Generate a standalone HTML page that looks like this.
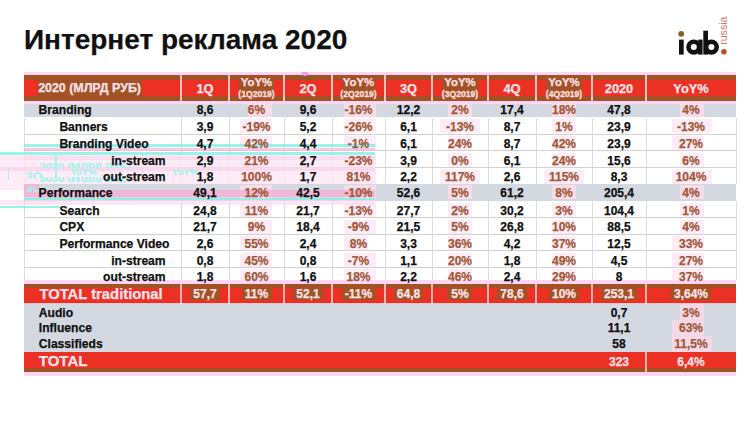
<!DOCTYPE html>
<html><head><meta charset="utf-8"><style>
*{margin:0;padding:0;box-sizing:border-box}
html,body{width:750px;height:421px;overflow:hidden;background:#fff}
body{position:relative;font-family:"Liberation Sans",sans-serif;font-weight:bold;color:#111}
.t,.c{-webkit-text-stroke:0.25px currentColor}
.a{position:absolute}
.t{position:absolute;white-space:nowrap;line-height:1}
.c{position:absolute;text-align:center;white-space:nowrap;line-height:1}
.hw{color:#fde2ea}
</style></head>
<body>
<div class="t" style="left:23.9px;top:26.1px;font-size:28px;letter-spacing:0px;color:#111">Интернет реклама 2020</div>
<svg class="a" style="left:670px;top:8px" width="72" height="54" viewBox="670 8 72 54">
<circle cx="681.2" cy="33.8" r="2.9" fill="#8a5a28"/>
<rect x="679" y="39.6" width="4.7" height="15" fill="#111"/>
<circle cx="693.8" cy="47.1" r="5.3" fill="none" stroke="#111" stroke-width="4.6"/>
<rect x="698.2" y="39.6" width="4.4" height="15" fill="#111"/>
<rect x="703.3" y="30.7" width="4.7" height="23.9" fill="#111"/>
<circle cx="711.4" cy="47.1" r="5.3" fill="none" stroke="#111" stroke-width="4.6"/>
<circle cx="723.9" cy="51.8" r="2.8" fill="#b5502a"/>
<text x="0" y="0" transform="translate(727.4,44.8) rotate(-90)" font-family="Liberation Sans" font-size="10.6" font-weight="normal" fill="#d4786a">russia</text>
</svg>
<div class="a" style="left:24px;top:72.3px;width:712px;height:3.1px;background:#fcd6f4"></div>
<div class="a" style="left:24px;top:75.4px;width:712px;height:25.5px;background:#a35226"></div>
<div class="a" style="left:24px;top:80px;width:157px;height:15.9px;background:#ea3124"></div>
<div class="a" style="left:181px;top:80px;width:48px;height:15.9px;background:#ea3124"></div>
<div class="a" style="left:229px;top:80px;width:10px;height:15.9px;background:#ea3124"></div>
<div class="a" style="left:274px;top:80px;width:10px;height:15.9px;background:#ea3124"></div>
<div class="a" style="left:284px;top:80px;width:48px;height:15.9px;background:#ea3124"></div>
<div class="a" style="left:332px;top:80px;width:10px;height:15.9px;background:#ea3124"></div>
<div class="a" style="left:375px;top:80px;width:10px;height:15.9px;background:#ea3124"></div>
<div class="a" style="left:385px;top:80px;width:47px;height:15.9px;background:#ea3124"></div>
<div class="a" style="left:432px;top:80px;width:10px;height:15.9px;background:#ea3124"></div>
<div class="a" style="left:478px;top:80px;width:10px;height:15.9px;background:#ea3124"></div>
<div class="a" style="left:488px;top:80px;width:48px;height:15.9px;background:#ea3124"></div>
<div class="a" style="left:536px;top:80px;width:10px;height:15.9px;background:#ea3124"></div>
<div class="a" style="left:582px;top:80px;width:10px;height:15.9px;background:#ea3124"></div>
<div class="a" style="left:592px;top:80px;width:54px;height:15.9px;background:#ea3124"></div>
<div class="a" style="left:646px;top:80px;width:90px;height:15.9px;background:#ea3124"></div>
<div class="a" style="left:38px;top:80px;width:104px;height:15.9px;background:#a35226"></div>
<div class="a" style="left:302px;top:72.3px;width:6px;height:4px;background:#fc96f4;border-radius:0 0 3px 3px"></div>
<div class="a" style="left:297px;top:76.5px;width:15px;height:3.5px;background:#8a5a2a"></div>
<div class="a" style="left:180.2px;top:75.4px;width:1.6px;height:25.5px;background:#f2c4bc"></div>
<div class="a" style="left:228.2px;top:75.4px;width:1.6px;height:25.5px;background:#f2c4bc"></div>
<div class="a" style="left:283.2px;top:75.4px;width:1.6px;height:25.5px;background:#f2c4bc"></div>
<div class="a" style="left:331.2px;top:75.4px;width:1.6px;height:25.5px;background:#f2c4bc"></div>
<div class="a" style="left:384.2px;top:75.4px;width:1.6px;height:25.5px;background:#f2c4bc"></div>
<div class="a" style="left:431.2px;top:75.4px;width:1.6px;height:25.5px;background:#f2c4bc"></div>
<div class="a" style="left:487.2px;top:75.4px;width:1.6px;height:25.5px;background:#f2c4bc"></div>
<div class="a" style="left:535.2px;top:75.4px;width:1.6px;height:25.5px;background:#f2c4bc"></div>
<div class="a" style="left:591.2px;top:75.4px;width:1.6px;height:25.5px;background:#f2c4bc"></div>
<div class="a" style="left:645.2px;top:75.4px;width:1.6px;height:25.5px;background:#f2c4bc"></div>
<div class="a" style="left:24px;top:100.9px;width:712px;height:3.2px;background:#fcd6f4"></div>
<div class="t hw" style="left:38.2px;top:82.2px;font-size:12.4px">2020 (МЛРД РУБ)</div>
<div class="c hw" style="left:181px;width:48px;top:82.8px;font-size:12.8px">1Q</div>
<div class="c hw" style="left:229px;width:55px;top:77.3px;font-size:11.4px">YoY%</div>
<div class="c" style="left:229px;width:55px;top:89.7px;font-size:8.6px;color:#fbdcdc;-webkit-text-stroke:0.35px #fbdcdc">(1Q2019)</div>
<div class="c hw" style="left:284px;width:48px;top:82.8px;font-size:12.8px">2Q</div>
<div class="c hw" style="left:332px;width:53px;top:77.3px;font-size:11.4px">YoY%</div>
<div class="c" style="left:332px;width:53px;top:89.7px;font-size:8.6px;color:#fbdcdc;-webkit-text-stroke:0.35px #fbdcdc">(2Q2019)</div>
<div class="c hw" style="left:385px;width:47px;top:82.8px;font-size:12.8px">3Q</div>
<div class="c hw" style="left:432px;width:56px;top:77.3px;font-size:11.4px">YoY%</div>
<div class="c" style="left:432px;width:56px;top:89.7px;font-size:8.6px;color:#fbdcdc;-webkit-text-stroke:0.35px #fbdcdc">(3Q2019)</div>
<div class="c hw" style="left:488px;width:48px;top:82.8px;font-size:12.8px">4Q</div>
<div class="c hw" style="left:536px;width:56px;top:77.3px;font-size:11.4px">YoY%</div>
<div class="c" style="left:536px;width:56px;top:89.7px;font-size:8.6px;color:#fbdcdc;-webkit-text-stroke:0.35px #fbdcdc">(4Q2019)</div>
<div class="c hw" style="left:592px;width:54px;top:82.8px;font-size:12.8px">2020</div>
<div class="c hw" style="left:646px;width:90px;top:82.8px;font-size:12.8px">YoY%</div>
<div class="a" style="left:24px;top:104.1px;width:712px;height:13.4px;background:#d4d8e0"></div>
<div class="a" style="left:24px;top:117.5px;width:712px;height:16.8px;background:#fff"></div>
<div class="a" style="left:24px;top:134.3px;width:712px;height:16.5px;background:#fff"></div>
<div class="a" style="left:24px;top:150.8px;width:712px;height:16.8px;background:#fff"></div>
<div class="a" style="left:24px;top:167.6px;width:712px;height:16.7px;background:#fff"></div>
<div class="a" style="left:24px;top:184.3px;width:712px;height:16.4px;background:#d4d8e0"></div>
<div class="a" style="left:24px;top:200.7px;width:712px;height:16.4px;background:#fff"></div>
<div class="a" style="left:24px;top:217.1px;width:712px;height:16.9px;background:#fff"></div>
<div class="a" style="left:24px;top:234px;width:712px;height:16.6px;background:#fff"></div>
<div class="a" style="left:24px;top:250.6px;width:712px;height:16.5px;background:#fff"></div>
<div class="a" style="left:24px;top:267.1px;width:712px;height:12.9px;background:#fff"></div>
<div class="a" style="left:248px;top:102.7px;width:24px;height:14px;background:#f6dce8"></div>
<div class="a" style="left:344px;top:102.7px;width:32px;height:14px;background:#f6dce8"></div>
<div class="a" style="left:448px;top:102.7px;width:24px;height:14px;background:#f6dce8"></div>
<div class="a" style="left:552px;top:102.7px;width:24px;height:14px;background:#f6dce8"></div>
<div class="a" style="left:680px;top:102.7px;width:24px;height:14px;background:#f6dce8"></div>
<div class="a" style="left:240px;top:119.3px;width:32px;height:14px;background:#fdecf6"></div>
<div class="a" style="left:344px;top:119.3px;width:32px;height:14px;background:#fdecf6"></div>
<div class="a" style="left:440px;top:119.3px;width:40px;height:14px;background:#fdecf6"></div>
<div class="a" style="left:552px;top:119.3px;width:24px;height:14px;background:#fdecf6"></div>
<div class="a" style="left:672px;top:119.3px;width:40px;height:14px;background:#fdecf6"></div>
<div class="a" style="left:240px;top:136.0px;width:32px;height:14px;background:#fdecf6"></div>
<div class="a" style="left:344px;top:136.0px;width:32px;height:14px;background:#fdecf6"></div>
<div class="a" style="left:448px;top:136.0px;width:24px;height:14px;background:#fdecf6"></div>
<div class="a" style="left:552px;top:136.0px;width:24px;height:14px;background:#fdecf6"></div>
<div class="a" style="left:672px;top:136.0px;width:32px;height:14px;background:#fdecf6"></div>
<div class="a" style="left:240px;top:152.9px;width:32px;height:14px;background:#fdecf6"></div>
<div class="a" style="left:344px;top:152.9px;width:32px;height:14px;background:#fdecf6"></div>
<div class="a" style="left:448px;top:152.9px;width:24px;height:14px;background:#fdecf6"></div>
<div class="a" style="left:552px;top:152.9px;width:24px;height:14px;background:#fdecf6"></div>
<div class="a" style="left:680px;top:152.9px;width:24px;height:14px;background:#fdecf6"></div>
<div class="a" style="left:240px;top:169.6px;width:32px;height:14px;background:#fdecf6"></div>
<div class="a" style="left:344px;top:169.6px;width:32px;height:14px;background:#fdecf6"></div>
<div class="a" style="left:440px;top:169.6px;width:40px;height:14px;background:#fdecf6"></div>
<div class="a" style="left:544px;top:169.6px;width:40px;height:14px;background:#fdecf6"></div>
<div class="a" style="left:672px;top:169.6px;width:40px;height:14px;background:#fdecf6"></div>
<div class="a" style="left:240px;top:185.3px;width:32px;height:14px;background:#f6dce8"></div>
<div class="a" style="left:344px;top:185.3px;width:32px;height:14px;background:#f6dce8"></div>
<div class="a" style="left:448px;top:185.3px;width:24px;height:14px;background:#f6dce8"></div>
<div class="a" style="left:552px;top:185.3px;width:24px;height:14px;background:#f6dce8"></div>
<div class="a" style="left:680px;top:185.3px;width:24px;height:14px;background:#f6dce8"></div>
<div class="a" style="left:240px;top:202.9px;width:32px;height:14px;background:#fdecf6"></div>
<div class="a" style="left:344px;top:202.9px;width:32px;height:14px;background:#fdecf6"></div>
<div class="a" style="left:448px;top:202.9px;width:24px;height:14px;background:#fdecf6"></div>
<div class="a" style="left:552px;top:202.9px;width:24px;height:14px;background:#fdecf6"></div>
<div class="a" style="left:680px;top:202.9px;width:24px;height:14px;background:#fdecf6"></div>
<div class="a" style="left:248px;top:219.5px;width:24px;height:14px;background:#fdecf6"></div>
<div class="a" style="left:344px;top:219.5px;width:32px;height:14px;background:#fdecf6"></div>
<div class="a" style="left:448px;top:219.5px;width:24px;height:14px;background:#fdecf6"></div>
<div class="a" style="left:552px;top:219.5px;width:24px;height:14px;background:#fdecf6"></div>
<div class="a" style="left:680px;top:219.5px;width:24px;height:14px;background:#fdecf6"></div>
<div class="a" style="left:240px;top:235.9px;width:32px;height:14px;background:#fdecf6"></div>
<div class="a" style="left:344px;top:235.9px;width:24px;height:14px;background:#fdecf6"></div>
<div class="a" style="left:448px;top:235.9px;width:24px;height:14px;background:#fdecf6"></div>
<div class="a" style="left:552px;top:235.9px;width:24px;height:14px;background:#fdecf6"></div>
<div class="a" style="left:672px;top:235.9px;width:32px;height:14px;background:#fdecf6"></div>
<div class="a" style="left:240px;top:252.9px;width:32px;height:14px;background:#fdecf6"></div>
<div class="a" style="left:344px;top:252.9px;width:32px;height:14px;background:#fdecf6"></div>
<div class="a" style="left:448px;top:252.9px;width:24px;height:14px;background:#fdecf6"></div>
<div class="a" style="left:552px;top:252.9px;width:24px;height:14px;background:#fdecf6"></div>
<div class="a" style="left:672px;top:252.9px;width:32px;height:14px;background:#fdecf6"></div>
<div class="a" style="left:240px;top:269.2px;width:32px;height:14px;background:#fdecf6"></div>
<div class="a" style="left:344px;top:269.2px;width:32px;height:14px;background:#fdecf6"></div>
<div class="a" style="left:448px;top:269.2px;width:24px;height:14px;background:#fdecf6"></div>
<div class="a" style="left:552px;top:269.2px;width:24px;height:14px;background:#fdecf6"></div>
<div class="a" style="left:672px;top:269.2px;width:32px;height:14px;background:#fdecf6"></div>
<div class="a" style="left:23.5px;top:117.5px;width:1px;height:16.8px;background:#dcdcdc"></div>
<div class="a" style="left:180.5px;top:117.5px;width:1px;height:16.8px;background:#dcdcdc"></div>
<div class="a" style="left:228.5px;top:117.5px;width:1px;height:16.8px;background:#dcdcdc"></div>
<div class="a" style="left:283.5px;top:117.5px;width:1px;height:16.8px;background:#dcdcdc"></div>
<div class="a" style="left:331.5px;top:117.5px;width:1px;height:16.8px;background:#dcdcdc"></div>
<div class="a" style="left:384.5px;top:117.5px;width:1px;height:16.8px;background:#dcdcdc"></div>
<div class="a" style="left:431.5px;top:117.5px;width:1px;height:16.8px;background:#dcdcdc"></div>
<div class="a" style="left:487.5px;top:117.5px;width:1px;height:16.8px;background:#dcdcdc"></div>
<div class="a" style="left:535.5px;top:117.5px;width:1px;height:16.8px;background:#dcdcdc"></div>
<div class="a" style="left:591.5px;top:117.5px;width:1px;height:16.8px;background:#dcdcdc"></div>
<div class="a" style="left:645.5px;top:117.5px;width:1px;height:16.8px;background:#dcdcdc"></div>
<div class="a" style="left:735.5px;top:117.5px;width:1px;height:16.8px;background:#dcdcdc"></div>
<div class="a" style="left:24px;top:133.8px;width:712px;height:1px;background:#d2d2d2"></div>
<div class="a" style="left:23.5px;top:134.3px;width:1px;height:16.5px;background:#dcdcdc"></div>
<div class="a" style="left:180.5px;top:134.3px;width:1px;height:16.5px;background:#dcdcdc"></div>
<div class="a" style="left:228.5px;top:134.3px;width:1px;height:16.5px;background:#dcdcdc"></div>
<div class="a" style="left:283.5px;top:134.3px;width:1px;height:16.5px;background:#dcdcdc"></div>
<div class="a" style="left:331.5px;top:134.3px;width:1px;height:16.5px;background:#dcdcdc"></div>
<div class="a" style="left:384.5px;top:134.3px;width:1px;height:16.5px;background:#dcdcdc"></div>
<div class="a" style="left:431.5px;top:134.3px;width:1px;height:16.5px;background:#dcdcdc"></div>
<div class="a" style="left:487.5px;top:134.3px;width:1px;height:16.5px;background:#dcdcdc"></div>
<div class="a" style="left:535.5px;top:134.3px;width:1px;height:16.5px;background:#dcdcdc"></div>
<div class="a" style="left:591.5px;top:134.3px;width:1px;height:16.5px;background:#dcdcdc"></div>
<div class="a" style="left:645.5px;top:134.3px;width:1px;height:16.5px;background:#dcdcdc"></div>
<div class="a" style="left:735.5px;top:134.3px;width:1px;height:16.5px;background:#dcdcdc"></div>
<div class="a" style="left:24px;top:150.3px;width:712px;height:1px;background:#d2d2d2"></div>
<div class="a" style="left:23.5px;top:150.8px;width:1px;height:16.8px;background:#dcdcdc"></div>
<div class="a" style="left:180.5px;top:150.8px;width:1px;height:16.8px;background:#dcdcdc"></div>
<div class="a" style="left:228.5px;top:150.8px;width:1px;height:16.8px;background:#dcdcdc"></div>
<div class="a" style="left:283.5px;top:150.8px;width:1px;height:16.8px;background:#dcdcdc"></div>
<div class="a" style="left:331.5px;top:150.8px;width:1px;height:16.8px;background:#dcdcdc"></div>
<div class="a" style="left:384.5px;top:150.8px;width:1px;height:16.8px;background:#dcdcdc"></div>
<div class="a" style="left:431.5px;top:150.8px;width:1px;height:16.8px;background:#dcdcdc"></div>
<div class="a" style="left:487.5px;top:150.8px;width:1px;height:16.8px;background:#dcdcdc"></div>
<div class="a" style="left:535.5px;top:150.8px;width:1px;height:16.8px;background:#dcdcdc"></div>
<div class="a" style="left:591.5px;top:150.8px;width:1px;height:16.8px;background:#dcdcdc"></div>
<div class="a" style="left:645.5px;top:150.8px;width:1px;height:16.8px;background:#dcdcdc"></div>
<div class="a" style="left:735.5px;top:150.8px;width:1px;height:16.8px;background:#dcdcdc"></div>
<div class="a" style="left:24px;top:167.1px;width:712px;height:1px;background:#d2d2d2"></div>
<div class="a" style="left:23.5px;top:167.6px;width:1px;height:16.7px;background:#dcdcdc"></div>
<div class="a" style="left:180.5px;top:167.6px;width:1px;height:16.7px;background:#dcdcdc"></div>
<div class="a" style="left:228.5px;top:167.6px;width:1px;height:16.7px;background:#dcdcdc"></div>
<div class="a" style="left:283.5px;top:167.6px;width:1px;height:16.7px;background:#dcdcdc"></div>
<div class="a" style="left:331.5px;top:167.6px;width:1px;height:16.7px;background:#dcdcdc"></div>
<div class="a" style="left:384.5px;top:167.6px;width:1px;height:16.7px;background:#dcdcdc"></div>
<div class="a" style="left:431.5px;top:167.6px;width:1px;height:16.7px;background:#dcdcdc"></div>
<div class="a" style="left:487.5px;top:167.6px;width:1px;height:16.7px;background:#dcdcdc"></div>
<div class="a" style="left:535.5px;top:167.6px;width:1px;height:16.7px;background:#dcdcdc"></div>
<div class="a" style="left:591.5px;top:167.6px;width:1px;height:16.7px;background:#dcdcdc"></div>
<div class="a" style="left:645.5px;top:167.6px;width:1px;height:16.7px;background:#dcdcdc"></div>
<div class="a" style="left:735.5px;top:167.6px;width:1px;height:16.7px;background:#dcdcdc"></div>
<div class="a" style="left:23.5px;top:200.7px;width:1px;height:16.4px;background:#dcdcdc"></div>
<div class="a" style="left:180.5px;top:200.7px;width:1px;height:16.4px;background:#dcdcdc"></div>
<div class="a" style="left:228.5px;top:200.7px;width:1px;height:16.4px;background:#dcdcdc"></div>
<div class="a" style="left:283.5px;top:200.7px;width:1px;height:16.4px;background:#dcdcdc"></div>
<div class="a" style="left:331.5px;top:200.7px;width:1px;height:16.4px;background:#dcdcdc"></div>
<div class="a" style="left:384.5px;top:200.7px;width:1px;height:16.4px;background:#dcdcdc"></div>
<div class="a" style="left:431.5px;top:200.7px;width:1px;height:16.4px;background:#dcdcdc"></div>
<div class="a" style="left:487.5px;top:200.7px;width:1px;height:16.4px;background:#dcdcdc"></div>
<div class="a" style="left:535.5px;top:200.7px;width:1px;height:16.4px;background:#dcdcdc"></div>
<div class="a" style="left:591.5px;top:200.7px;width:1px;height:16.4px;background:#dcdcdc"></div>
<div class="a" style="left:645.5px;top:200.7px;width:1px;height:16.4px;background:#dcdcdc"></div>
<div class="a" style="left:735.5px;top:200.7px;width:1px;height:16.4px;background:#dcdcdc"></div>
<div class="a" style="left:24px;top:216.6px;width:712px;height:1px;background:#d2d2d2"></div>
<div class="a" style="left:23.5px;top:217.1px;width:1px;height:16.9px;background:#dcdcdc"></div>
<div class="a" style="left:180.5px;top:217.1px;width:1px;height:16.9px;background:#dcdcdc"></div>
<div class="a" style="left:228.5px;top:217.1px;width:1px;height:16.9px;background:#dcdcdc"></div>
<div class="a" style="left:283.5px;top:217.1px;width:1px;height:16.9px;background:#dcdcdc"></div>
<div class="a" style="left:331.5px;top:217.1px;width:1px;height:16.9px;background:#dcdcdc"></div>
<div class="a" style="left:384.5px;top:217.1px;width:1px;height:16.9px;background:#dcdcdc"></div>
<div class="a" style="left:431.5px;top:217.1px;width:1px;height:16.9px;background:#dcdcdc"></div>
<div class="a" style="left:487.5px;top:217.1px;width:1px;height:16.9px;background:#dcdcdc"></div>
<div class="a" style="left:535.5px;top:217.1px;width:1px;height:16.9px;background:#dcdcdc"></div>
<div class="a" style="left:591.5px;top:217.1px;width:1px;height:16.9px;background:#dcdcdc"></div>
<div class="a" style="left:645.5px;top:217.1px;width:1px;height:16.9px;background:#dcdcdc"></div>
<div class="a" style="left:735.5px;top:217.1px;width:1px;height:16.9px;background:#dcdcdc"></div>
<div class="a" style="left:24px;top:233.5px;width:712px;height:1px;background:#d2d2d2"></div>
<div class="a" style="left:23.5px;top:234px;width:1px;height:16.6px;background:#dcdcdc"></div>
<div class="a" style="left:180.5px;top:234px;width:1px;height:16.6px;background:#dcdcdc"></div>
<div class="a" style="left:228.5px;top:234px;width:1px;height:16.6px;background:#dcdcdc"></div>
<div class="a" style="left:283.5px;top:234px;width:1px;height:16.6px;background:#dcdcdc"></div>
<div class="a" style="left:331.5px;top:234px;width:1px;height:16.6px;background:#dcdcdc"></div>
<div class="a" style="left:384.5px;top:234px;width:1px;height:16.6px;background:#dcdcdc"></div>
<div class="a" style="left:431.5px;top:234px;width:1px;height:16.6px;background:#dcdcdc"></div>
<div class="a" style="left:487.5px;top:234px;width:1px;height:16.6px;background:#dcdcdc"></div>
<div class="a" style="left:535.5px;top:234px;width:1px;height:16.6px;background:#dcdcdc"></div>
<div class="a" style="left:591.5px;top:234px;width:1px;height:16.6px;background:#dcdcdc"></div>
<div class="a" style="left:645.5px;top:234px;width:1px;height:16.6px;background:#dcdcdc"></div>
<div class="a" style="left:735.5px;top:234px;width:1px;height:16.6px;background:#dcdcdc"></div>
<div class="a" style="left:24px;top:250.1px;width:712px;height:1px;background:#d2d2d2"></div>
<div class="a" style="left:23.5px;top:250.6px;width:1px;height:16.5px;background:#dcdcdc"></div>
<div class="a" style="left:180.5px;top:250.6px;width:1px;height:16.5px;background:#dcdcdc"></div>
<div class="a" style="left:228.5px;top:250.6px;width:1px;height:16.5px;background:#dcdcdc"></div>
<div class="a" style="left:283.5px;top:250.6px;width:1px;height:16.5px;background:#dcdcdc"></div>
<div class="a" style="left:331.5px;top:250.6px;width:1px;height:16.5px;background:#dcdcdc"></div>
<div class="a" style="left:384.5px;top:250.6px;width:1px;height:16.5px;background:#dcdcdc"></div>
<div class="a" style="left:431.5px;top:250.6px;width:1px;height:16.5px;background:#dcdcdc"></div>
<div class="a" style="left:487.5px;top:250.6px;width:1px;height:16.5px;background:#dcdcdc"></div>
<div class="a" style="left:535.5px;top:250.6px;width:1px;height:16.5px;background:#dcdcdc"></div>
<div class="a" style="left:591.5px;top:250.6px;width:1px;height:16.5px;background:#dcdcdc"></div>
<div class="a" style="left:645.5px;top:250.6px;width:1px;height:16.5px;background:#dcdcdc"></div>
<div class="a" style="left:735.5px;top:250.6px;width:1px;height:16.5px;background:#dcdcdc"></div>
<div class="a" style="left:24px;top:266.6px;width:712px;height:1px;background:#d2d2d2"></div>
<div class="a" style="left:23.5px;top:267.1px;width:1px;height:12.9px;background:#dcdcdc"></div>
<div class="a" style="left:180.5px;top:267.1px;width:1px;height:12.9px;background:#dcdcdc"></div>
<div class="a" style="left:228.5px;top:267.1px;width:1px;height:12.9px;background:#dcdcdc"></div>
<div class="a" style="left:283.5px;top:267.1px;width:1px;height:12.9px;background:#dcdcdc"></div>
<div class="a" style="left:331.5px;top:267.1px;width:1px;height:12.9px;background:#dcdcdc"></div>
<div class="a" style="left:384.5px;top:267.1px;width:1px;height:12.9px;background:#dcdcdc"></div>
<div class="a" style="left:431.5px;top:267.1px;width:1px;height:12.9px;background:#dcdcdc"></div>
<div class="a" style="left:487.5px;top:267.1px;width:1px;height:12.9px;background:#dcdcdc"></div>
<div class="a" style="left:535.5px;top:267.1px;width:1px;height:12.9px;background:#dcdcdc"></div>
<div class="a" style="left:591.5px;top:267.1px;width:1px;height:12.9px;background:#dcdcdc"></div>
<div class="a" style="left:645.5px;top:267.1px;width:1px;height:12.9px;background:#dcdcdc"></div>
<div class="a" style="left:735.5px;top:267.1px;width:1px;height:12.9px;background:#dcdcdc"></div>
<div class="a" style="left:24px;top:280px;width:712px;height:3.5px;background:#fcd6f4"></div>
<div class="a" style="left:24px;top:283.5px;width:712px;height:19.8px;background:#ea3124"></div>
<div class="a" style="left:24px;top:283.5px;width:712px;height:4.3px;background:#a35226"></div>
<div class="a" style="left:190.3px;top:287.8px;width:29.4px;height:12.5px;background:#a35226"></div>
<div class="a" style="left:241.5px;top:287.8px;width:30.0px;height:12.5px;background:#a35226"></div>
<div class="a" style="left:293.3px;top:287.8px;width:29.4px;height:12.5px;background:#a35226"></div>
<div class="a" style="left:341.5px;top:287.8px;width:34.0px;height:12.5px;background:#a35226"></div>
<div class="a" style="left:393.8px;top:287.8px;width:29.4px;height:12.5px;background:#a35226"></div>
<div class="a" style="left:448.3px;top:287.8px;width:23.3px;height:12.5px;background:#a35226"></div>
<div class="a" style="left:497.3px;top:287.8px;width:29.4px;height:12.5px;background:#a35226"></div>
<div class="a" style="left:549.0px;top:287.8px;width:30.0px;height:12.5px;background:#a35226"></div>
<div class="a" style="left:601.0px;top:287.8px;width:36.0px;height:12.5px;background:#a35226"></div>
<div class="a" style="left:671.0px;top:287.8px;width:40.0px;height:12.5px;background:#a35226"></div>
<div class="a" style="left:180.2px;top:283.5px;width:1.6px;height:19.8px;background:#f2b4ac"></div>
<div class="a" style="left:228.2px;top:283.5px;width:1.6px;height:19.8px;background:#f2b4ac"></div>
<div class="a" style="left:283.2px;top:283.5px;width:1.6px;height:19.8px;background:#f2b4ac"></div>
<div class="a" style="left:331.2px;top:283.5px;width:1.6px;height:19.8px;background:#f2b4ac"></div>
<div class="a" style="left:384.2px;top:283.5px;width:1.6px;height:19.8px;background:#f2b4ac"></div>
<div class="a" style="left:431.2px;top:283.5px;width:1.6px;height:19.8px;background:#f2b4ac"></div>
<div class="a" style="left:487.2px;top:283.5px;width:1.6px;height:19.8px;background:#f2b4ac"></div>
<div class="a" style="left:535.2px;top:283.5px;width:1.6px;height:19.8px;background:#f2b4ac"></div>
<div class="a" style="left:591.2px;top:283.5px;width:1.6px;height:19.8px;background:#f2b4ac"></div>
<div class="a" style="left:645.2px;top:283.5px;width:1.6px;height:19.8px;background:#f2b4ac"></div>
<div class="a" style="left:24px;top:303.3px;width:712px;height:1px;background:#ecc8d0"></div>
<div class="t hw" style="left:39.4px;top:287.1px;font-size:14.8px">TOTAL traditional</div>
<div class="c hw" style="left:181px;width:48px;top:287.65px;font-size:12.0px">57,7</div>
<div class="c hw" style="left:229px;width:55px;top:287.65px;font-size:12.0px">11%</div>
<div class="c hw" style="left:284px;width:48px;top:287.65px;font-size:12.0px">52,1</div>
<div class="c hw" style="left:332px;width:53px;top:287.65px;font-size:12.0px">-11%</div>
<div class="c hw" style="left:385px;width:47px;top:287.65px;font-size:12.0px">64,8</div>
<div class="c hw" style="left:432px;width:56px;top:287.65px;font-size:12.0px">5%</div>
<div class="c hw" style="left:488px;width:48px;top:287.65px;font-size:12.0px">78,6</div>
<div class="c hw" style="left:536px;width:56px;top:287.65px;font-size:12.0px">10%</div>
<div class="c hw" style="left:592px;width:54px;top:287.65px;font-size:12.0px">253,1</div>
<div class="c hw" style="left:646px;width:90px;top:287.65px;font-size:12.0px">3,64%</div>
<div class="a" style="left:24px;top:304.3px;width:712px;height:47.7px;background:#d4d8e0"></div>
<div class="a" style="left:680px;top:304.3px;width:24px;height:16px;background:#f4d8e8"></div>
<div class="a" style="left:672px;top:320.3px;width:32px;height:16px;background:#f4d8e8"></div>
<div class="a" style="left:672px;top:336.3px;width:40px;height:16px;background:#f4d8e8"></div>
<div class="t" style="left:38.8px;top:306.65px;font-size:12.1px">Audio</div>
<div class="c" style="left:592px;width:54px;top:306.65px;font-size:12.0px">0,7</div>
<div class="c" style="left:646px;width:90px;top:306.65px;font-size:12.0px;color:#a05838">3%</div>
<div class="t" style="left:38.8px;top:322.25px;font-size:12.1px">Influence</div>
<div class="c" style="left:592px;width:54px;top:322.25px;font-size:12.0px">11,1</div>
<div class="c" style="left:646px;width:90px;top:322.25px;font-size:12.0px;color:#a05838">63%</div>
<div class="t" style="left:38.8px;top:338.25px;font-size:12.1px">Classifieds</div>
<div class="c" style="left:592px;width:54px;top:338.25px;font-size:12.0px">58</div>
<div class="c" style="left:646px;width:90px;top:338.25px;font-size:12.0px;color:#a05838">11,5%</div>
<div class="a" style="left:24px;top:352px;width:712px;height:16px;background:#ea3124"></div>
<div class="a" style="left:24px;top:368px;width:712px;height:3.5px;background:#a35226"></div>
<div class="a" style="left:645.2px;top:352px;width:1.6px;height:19.5px;background:#f2b4ac"></div>
<div class="a" style="left:24px;top:371.5px;width:712px;height:4.3px;background:#fcd6f4"></div>
<div class="t hw" style="left:38.8px;top:353.4px;font-size:15px">TOTAL</div>
<div class="c hw" style="left:592px;width:54px;top:355.75px;font-size:12.0px">323</div>
<div class="c hw" style="left:646px;width:90px;top:355.75px;font-size:12.0px">6,4%</div>
<div class="a" style="left:24px;top:144.2px;width:351px;height:2.9px;background:#86f2e6;opacity:0.85"></div>
<div class="a" style="left:24px;top:147.5px;width:351px;height:3.5px;background:#f7b8dc;opacity:0.75"></div>
<div class="a" style="left:24px;top:155.0px;width:351px;height:29.3px;background:#fde6f4;opacity:0.8"></div>
<div class="a" style="left:0px;top:160.0px;width:24px;height:30.0px;background:#fde6f4;opacity:0.7"></div>
<div class="a" style="left:0px;top:167.0px;width:375px;height:3.5px;background:#fbd0ea;opacity:0.7"></div>
<div class="a" style="left:0px;top:152.0px;width:375px;height:3.0px;background:#86f2e6;opacity:0.85"></div>
<div class="a" style="left:0px;top:155.5px;width:375px;height:4.5px;background:#fbd4ec;opacity:0.6"></div>
<div class="a" style="left:24px;top:184.3px;width:16px;height:13.0px;background:#f4b4d6;opacity:0.9"></div>
<div class="a" style="left:24px;top:190.0px;width:351px;height:7.3px;background:#f4b4d6;opacity:0.9"></div>
<div class="a" style="left:24px;top:197.5px;width:351px;height:2.6px;background:#86f2e6;opacity:0.85"></div>
<div class="a" style="left:0px;top:200.3px;width:375px;height:4.7px;background:#fbd4ec;opacity:0.6"></div>
<div class="a" style="left:0px;top:205.8px;width:60px;height:2.2px;background:#86f2e6;opacity:0.85"></div>
<div class="t" style="left:39.6px;top:162.3px;font-size:11px;color:#a6f2ee;clip-path:inset(0 0 45% 0)">2020 (МЛРД РУБ)</div>
<div class="t" style="left:39.6px;top:171.5px;font-size:11px;color:#a6f2ee;transform:scaleY(-1);clip-path:inset(0 0 45% 0)">2020 (МЛРД РУБ)</div>
<div class="t" style="left:70.4px;top:166.8px;font-size:9.5px;color:#a6f2ee">YoY%</div>
<div class="t" style="left:172px;top:166.8px;font-size:9.5px;color:#a6f2ee">YoY%</div>
<div class="t" style="left:26px;top:171.0px;font-size:12px;color:#a6f2ee;clip-path:inset(0 0 40% 0)">3Q</div>
<div class="t" style="left:26px;top:180.5px;font-size:12px;color:#a6f2ee;transform:scaleY(-1);clip-path:inset(0 0 40% 0)">3Q</div>
<div class="a" style="left:55px;top:155px;width:1.5px;height:25px;background:#a6f2ee"></div>
<div class="a" style="left:7.5px;top:168px;width:1.5px;height:12px;background:#a6f2ee"></div>
<div class="t" style="left:38.6px;top:104.45px;font-size:12.1px">Branding</div>
<div class="c" style="left:181px;width:48px;top:104.45px;font-size:12.0px;color:#111">8,6</div>
<div class="c" style="left:229px;width:55px;top:104.45px;font-size:12.0px;color:#a05838">6%</div>
<div class="c" style="left:284px;width:48px;top:104.45px;font-size:12.0px;color:#111">9,6</div>
<div class="c" style="left:332px;width:53px;top:104.45px;font-size:12.0px;color:#a05838">-16%</div>
<div class="c" style="left:385px;width:47px;top:104.45px;font-size:12.0px;color:#111">12,2</div>
<div class="c" style="left:432px;width:56px;top:104.45px;font-size:12.0px;color:#a05838">2%</div>
<div class="c" style="left:488px;width:48px;top:104.45px;font-size:12.0px;color:#111">17,4</div>
<div class="c" style="left:536px;width:56px;top:104.45px;font-size:12.0px;color:#a05838">18%</div>
<div class="c" style="left:592px;width:54px;top:104.45px;font-size:12.0px;color:#111">47,8</div>
<div class="c" style="left:646px;width:90px;top:104.45px;font-size:12.0px;color:#a05838">4%</div>
<div class="t" style="left:59.4px;top:121.05px;font-size:12.1px">Banners</div>
<div class="c" style="left:181px;width:48px;top:121.05px;font-size:12.0px;color:#111">3,9</div>
<div class="c" style="left:229px;width:55px;top:121.05px;font-size:12.0px;color:#a05838">-19%</div>
<div class="c" style="left:284px;width:48px;top:121.05px;font-size:12.0px;color:#111">5,2</div>
<div class="c" style="left:332px;width:53px;top:121.05px;font-size:12.0px;color:#a05838">-26%</div>
<div class="c" style="left:385px;width:47px;top:121.05px;font-size:12.0px;color:#111">6,1</div>
<div class="c" style="left:432px;width:56px;top:121.05px;font-size:12.0px;color:#a05838">-13%</div>
<div class="c" style="left:488px;width:48px;top:121.05px;font-size:12.0px;color:#111">8,7</div>
<div class="c" style="left:536px;width:56px;top:121.05px;font-size:12.0px;color:#a05838">1%</div>
<div class="c" style="left:592px;width:54px;top:121.05px;font-size:12.0px;color:#111">23,9</div>
<div class="c" style="left:646px;width:90px;top:121.05px;font-size:12.0px;color:#a05838">-13%</div>
<div class="t" style="left:59.4px;top:137.75px;font-size:12.1px">Branding Video</div>
<div class="c" style="left:181px;width:48px;top:137.75px;font-size:12.0px;color:#111">4,7</div>
<div class="c" style="left:229px;width:55px;top:137.75px;font-size:12.0px;color:#a05838">42%</div>
<div class="c" style="left:284px;width:48px;top:137.75px;font-size:12.0px;color:#111">4,4</div>
<div class="c" style="left:332px;width:53px;top:137.75px;font-size:12.0px;color:#a05838">-1%</div>
<div class="c" style="left:385px;width:47px;top:137.75px;font-size:12.0px;color:#111">6,1</div>
<div class="c" style="left:432px;width:56px;top:137.75px;font-size:12.0px;color:#a05838">24%</div>
<div class="c" style="left:488px;width:48px;top:137.75px;font-size:12.0px;color:#111">8,7</div>
<div class="c" style="left:536px;width:56px;top:137.75px;font-size:12.0px;color:#a05838">42%</div>
<div class="c" style="left:592px;width:54px;top:137.75px;font-size:12.0px;color:#111">23,9</div>
<div class="c" style="left:646px;width:90px;top:137.75px;font-size:12.0px;color:#a05838">27%</div>
<div class="t" style="right:584.4px;top:154.65px;font-size:12.1px">in-stream</div>
<div class="c" style="left:181px;width:48px;top:154.65px;font-size:12.0px;color:#111">2,9</div>
<div class="c" style="left:229px;width:55px;top:154.65px;font-size:12.0px;color:#a05838">21%</div>
<div class="c" style="left:284px;width:48px;top:154.65px;font-size:12.0px;color:#111">2,7</div>
<div class="c" style="left:332px;width:53px;top:154.65px;font-size:12.0px;color:#a05838">-23%</div>
<div class="c" style="left:385px;width:47px;top:154.65px;font-size:12.0px;color:#111">3,9</div>
<div class="c" style="left:432px;width:56px;top:154.65px;font-size:12.0px;color:#a05838">0%</div>
<div class="c" style="left:488px;width:48px;top:154.65px;font-size:12.0px;color:#111">6,1</div>
<div class="c" style="left:536px;width:56px;top:154.65px;font-size:12.0px;color:#a05838">24%</div>
<div class="c" style="left:592px;width:54px;top:154.65px;font-size:12.0px;color:#111">15,6</div>
<div class="c" style="left:646px;width:90px;top:154.65px;font-size:12.0px;color:#a05838">6%</div>
<div class="t" style="right:584.4px;top:171.35px;font-size:12.1px">out-stream</div>
<div class="c" style="left:181px;width:48px;top:171.35px;font-size:12.0px;color:#111">1,8</div>
<div class="c" style="left:229px;width:55px;top:171.35px;font-size:12.0px;color:#a05838">100%</div>
<div class="c" style="left:284px;width:48px;top:171.35px;font-size:12.0px;color:#111">1,7</div>
<div class="c" style="left:332px;width:53px;top:171.35px;font-size:12.0px;color:#a05838">81%</div>
<div class="c" style="left:385px;width:47px;top:171.35px;font-size:12.0px;color:#111">2,2</div>
<div class="c" style="left:432px;width:56px;top:171.35px;font-size:12.0px;color:#a05838">117%</div>
<div class="c" style="left:488px;width:48px;top:171.35px;font-size:12.0px;color:#111">2,6</div>
<div class="c" style="left:536px;width:56px;top:171.35px;font-size:12.0px;color:#a05838">115%</div>
<div class="c" style="left:592px;width:54px;top:171.35px;font-size:12.0px;color:#111">8,3</div>
<div class="c" style="left:646px;width:90px;top:171.35px;font-size:12.0px;color:#a05838">104%</div>
<div class="t" style="left:38.6px;top:187.05px;font-size:12.1px">Performance</div>
<div class="c" style="left:181px;width:48px;top:187.05px;font-size:12.0px;color:#111">49,1</div>
<div class="c" style="left:229px;width:55px;top:187.05px;font-size:12.0px;color:#a05838">12%</div>
<div class="c" style="left:284px;width:48px;top:187.05px;font-size:12.0px;color:#111">42,5</div>
<div class="c" style="left:332px;width:53px;top:187.05px;font-size:12.0px;color:#a05838">-10%</div>
<div class="c" style="left:385px;width:47px;top:187.05px;font-size:12.0px;color:#111">52,6</div>
<div class="c" style="left:432px;width:56px;top:187.05px;font-size:12.0px;color:#a05838">5%</div>
<div class="c" style="left:488px;width:48px;top:187.05px;font-size:12.0px;color:#111">61,2</div>
<div class="c" style="left:536px;width:56px;top:187.05px;font-size:12.0px;color:#a05838">8%</div>
<div class="c" style="left:592px;width:54px;top:187.05px;font-size:12.0px;color:#111">205,4</div>
<div class="c" style="left:646px;width:90px;top:187.05px;font-size:12.0px;color:#a05838">4%</div>
<div class="t" style="left:59.4px;top:204.65px;font-size:12.1px">Search</div>
<div class="c" style="left:181px;width:48px;top:204.65px;font-size:12.0px;color:#111">24,8</div>
<div class="c" style="left:229px;width:55px;top:204.65px;font-size:12.0px;color:#a05838">11%</div>
<div class="c" style="left:284px;width:48px;top:204.65px;font-size:12.0px;color:#111">21,7</div>
<div class="c" style="left:332px;width:53px;top:204.65px;font-size:12.0px;color:#a05838">-13%</div>
<div class="c" style="left:385px;width:47px;top:204.65px;font-size:12.0px;color:#111">27,7</div>
<div class="c" style="left:432px;width:56px;top:204.65px;font-size:12.0px;color:#a05838">2%</div>
<div class="c" style="left:488px;width:48px;top:204.65px;font-size:12.0px;color:#111">30,2</div>
<div class="c" style="left:536px;width:56px;top:204.65px;font-size:12.0px;color:#a05838">3%</div>
<div class="c" style="left:592px;width:54px;top:204.65px;font-size:12.0px;color:#111">104,4</div>
<div class="c" style="left:646px;width:90px;top:204.65px;font-size:12.0px;color:#a05838">1%</div>
<div class="t" style="left:59.4px;top:221.25px;font-size:12.1px">CPX</div>
<div class="c" style="left:181px;width:48px;top:221.25px;font-size:12.0px;color:#111">21,7</div>
<div class="c" style="left:229px;width:55px;top:221.25px;font-size:12.0px;color:#a05838">9%</div>
<div class="c" style="left:284px;width:48px;top:221.25px;font-size:12.0px;color:#111">18,4</div>
<div class="c" style="left:332px;width:53px;top:221.25px;font-size:12.0px;color:#a05838">-9%</div>
<div class="c" style="left:385px;width:47px;top:221.25px;font-size:12.0px;color:#111">21,5</div>
<div class="c" style="left:432px;width:56px;top:221.25px;font-size:12.0px;color:#a05838">5%</div>
<div class="c" style="left:488px;width:48px;top:221.25px;font-size:12.0px;color:#111">26,8</div>
<div class="c" style="left:536px;width:56px;top:221.25px;font-size:12.0px;color:#a05838">10%</div>
<div class="c" style="left:592px;width:54px;top:221.25px;font-size:12.0px;color:#111">88,5</div>
<div class="c" style="left:646px;width:90px;top:221.25px;font-size:12.0px;color:#a05838">4%</div>
<div class="t" style="left:59.4px;top:237.65px;font-size:12.1px">Performance Video</div>
<div class="c" style="left:181px;width:48px;top:237.65px;font-size:12.0px;color:#111">2,6</div>
<div class="c" style="left:229px;width:55px;top:237.65px;font-size:12.0px;color:#a05838">55%</div>
<div class="c" style="left:284px;width:48px;top:237.65px;font-size:12.0px;color:#111">2,4</div>
<div class="c" style="left:332px;width:53px;top:237.65px;font-size:12.0px;color:#a05838">8%</div>
<div class="c" style="left:385px;width:47px;top:237.65px;font-size:12.0px;color:#111">3,3</div>
<div class="c" style="left:432px;width:56px;top:237.65px;font-size:12.0px;color:#a05838">36%</div>
<div class="c" style="left:488px;width:48px;top:237.65px;font-size:12.0px;color:#111">4,2</div>
<div class="c" style="left:536px;width:56px;top:237.65px;font-size:12.0px;color:#a05838">37%</div>
<div class="c" style="left:592px;width:54px;top:237.65px;font-size:12.0px;color:#111">12,5</div>
<div class="c" style="left:646px;width:90px;top:237.65px;font-size:12.0px;color:#a05838">33%</div>
<div class="t" style="right:584.4px;top:254.65px;font-size:12.1px">in-stream</div>
<div class="c" style="left:181px;width:48px;top:254.65px;font-size:12.0px;color:#111">0,8</div>
<div class="c" style="left:229px;width:55px;top:254.65px;font-size:12.0px;color:#a05838">45%</div>
<div class="c" style="left:284px;width:48px;top:254.65px;font-size:12.0px;color:#111">0,8</div>
<div class="c" style="left:332px;width:53px;top:254.65px;font-size:12.0px;color:#a05838">-7%</div>
<div class="c" style="left:385px;width:47px;top:254.65px;font-size:12.0px;color:#111">1,1</div>
<div class="c" style="left:432px;width:56px;top:254.65px;font-size:12.0px;color:#a05838">20%</div>
<div class="c" style="left:488px;width:48px;top:254.65px;font-size:12.0px;color:#111">1,8</div>
<div class="c" style="left:536px;width:56px;top:254.65px;font-size:12.0px;color:#a05838">49%</div>
<div class="c" style="left:592px;width:54px;top:254.65px;font-size:12.0px;color:#111">4,5</div>
<div class="c" style="left:646px;width:90px;top:254.65px;font-size:12.0px;color:#a05838">27%</div>
<div class="t" style="right:584.4px;top:270.95px;font-size:12.1px">out-stream</div>
<div class="c" style="left:181px;width:48px;top:270.95px;font-size:12.0px;color:#111">1,8</div>
<div class="c" style="left:229px;width:55px;top:270.95px;font-size:12.0px;color:#a05838">60%</div>
<div class="c" style="left:284px;width:48px;top:270.95px;font-size:12.0px;color:#111">1,6</div>
<div class="c" style="left:332px;width:53px;top:270.95px;font-size:12.0px;color:#a05838">18%</div>
<div class="c" style="left:385px;width:47px;top:270.95px;font-size:12.0px;color:#111">2,2</div>
<div class="c" style="left:432px;width:56px;top:270.95px;font-size:12.0px;color:#a05838">46%</div>
<div class="c" style="left:488px;width:48px;top:270.95px;font-size:12.0px;color:#111">2,4</div>
<div class="c" style="left:536px;width:56px;top:270.95px;font-size:12.0px;color:#a05838">29%</div>
<div class="c" style="left:592px;width:54px;top:270.95px;font-size:12.0px;color:#111">8</div>
<div class="c" style="left:646px;width:90px;top:270.95px;font-size:12.0px;color:#a05838">37%</div>
</body></html>
